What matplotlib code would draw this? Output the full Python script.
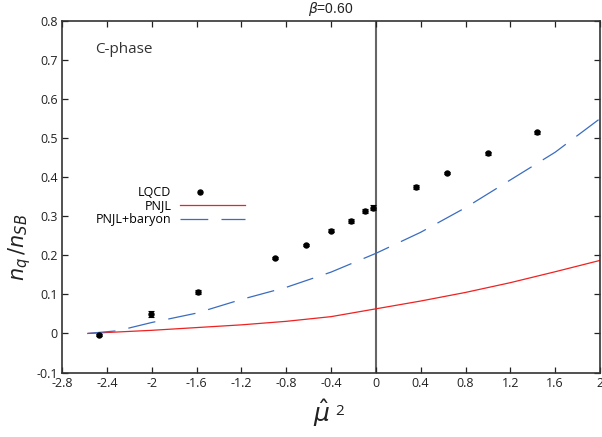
import numpy as np
import matplotlib
matplotlib.use("Agg")
import matplotlib.pyplot as plt
from matplotlib.lines import Line2D
from matplotlib.legend_handler import HandlerBase

# LQCD data points (mu-hat^2, n_q/n_SB, error)
lqcd_x = [-2.467, -2.005, -1.589, -0.896, -0.621, -0.398, -0.226, -0.101, -0.027, 0.357, 0.637, 1.0, 1.44]
lqcd_y = [-0.004, 0.049, 0.106, 0.194, 0.226, 0.263, 0.288, 0.313, 0.322, 0.375, 0.411, 0.461, 0.515]
lqcd_err = [0.003, 0.008, 0.004, 0.003, 0.003, 0.004, 0.004, 0.005, 0.007, 0.006, 0.003, 0.003, 0.004]

# PNJL curve
pnjl_x = [-2.57, -2.0, -1.6, -1.2, -0.8, -0.4, 0.0, 0.4, 0.8, 1.2, 1.6, 2.0]
pnjl_y = [0.0, 0.008, 0.015, 0.022, 0.031, 0.043, 0.063, 0.083, 0.105, 0.130, 0.158, 0.187]

# PNJL+baryon curve
bar_x = [-2.57, -2.3, -2.0, -1.6, -1.2, -0.8, -0.4, 0.0, 0.4, 0.8, 1.2, 1.6, 2.0]
bar_y = [0.0, 0.007, 0.028, 0.052, 0.087, 0.118, 0.157, 0.205, 0.259, 0.322, 0.393, 0.464, 0.55]

plt.rcParams['font.family'] = ['Open Sans', 'DejaVu Sans']
plt.rcParams['lines.scale_dashes'] = False


class LeftDot(HandlerBase):
    # single dot sitting in the left part of the handle, gnuplot style
    def create_artists(self, legend, orig_handle, xdescent, ydescent,
                       width, height, fontsize, trans):
        x = -xdescent + 0.3 * width
        y = -ydescent + height / 2
        ln = Line2D([x], [y], ls='none', marker='o', color='black', ms=3.6,
                    transform=trans)
        return [ln]


fig = plt.figure(figsize=(6.02, 4.37), dpi=100)
ax = fig.add_axes([62/602, 64.5/437, 538/602, 351.5/437])

ax.axvline(0, color='#666666', lw=1.5, zorder=1)
l_pnjl, = ax.plot(pnjl_x, pnjl_y, color='#ee2222', lw=0.9)
l_bar, = ax.plot(bar_x, bar_y, color='#3a6cc0', lw=0.9, dashes=(20, 9.5))
ax.errorbar(lqcd_x, lqcd_y, yerr=lqcd_err, fmt='o', color='black', ms=3.6,
            elinewidth=0.8, capsize=2, capthick=0.8, zorder=5)

ax.set_xlim(-2.8, 2.0)
ax.set_ylim(-0.1, 0.8)
ax.set_xticks(np.arange(-2.8, 2.01, 0.4))
ax.set_xticklabels(['-2.8', '-2.4', '-2', '-1.6', '-1.2', '-0.8', '-0.4', '0',
                    '0.4', '0.8', '1.2', '1.6', '2'])
ax.set_yticks(np.arange(-0.1, 0.81, 0.1))
ax.set_yticklabels(['-0.1', '0', '0.1', '0.2', '0.3', '0.4', '0.5', '0.6', '0.7', '0.8'])
ax.tick_params(direction='in', length=4, width=0.9, top=True, right=True,
               labelsize=9, colors='#222222', pad=3)
for s in ax.spines.values():
    s.set_color('#333333')
    s.set_linewidth(1.2)

ax.text(0.061, 0.92, 'C-phase', transform=ax.transAxes, fontsize=11,
        ha='left', va='center', color='#333333')

dot = Line2D([], [], ls='none', marker='o', color='black', ms=3.6)
fig.legend([dot, l_pnjl, l_bar], ['LQCD', 'PNJL', 'PNJL+baryon'],
           loc='center right', bbox_to_anchor=(245/602, (437-206)/437),
           frameon=False, markerfirst=False, fontsize=9,
           handlelength=5.2, handletextpad=0.7, labelspacing=0.05,
           borderpad=0, borderaxespad=0, handler_map={dot: LeftDot()})

fig.text(331/602, (437-13)/437, r'$\beta$=0.60', ha='center', va='baseline',
         fontsize=10, family=['Liberation Sans', 'DejaVu Sans'], color='#222222')
fig.text(20/602, 190/437, r'$n_q\,/n_{SB}$', rotation=90, ha='center',
         va='center', fontsize=15, color='#222222')
fig.text(322/602, (437-422)/437, r'$\hat{\mu}$', ha='center', va='baseline',
         fontsize=18, color='#222222')
fig.text(340/602, (437-415)/437, '2', ha='center', va='baseline',
         fontsize=11, color='#222222')

fig.savefig('out.png', dpi=100)
